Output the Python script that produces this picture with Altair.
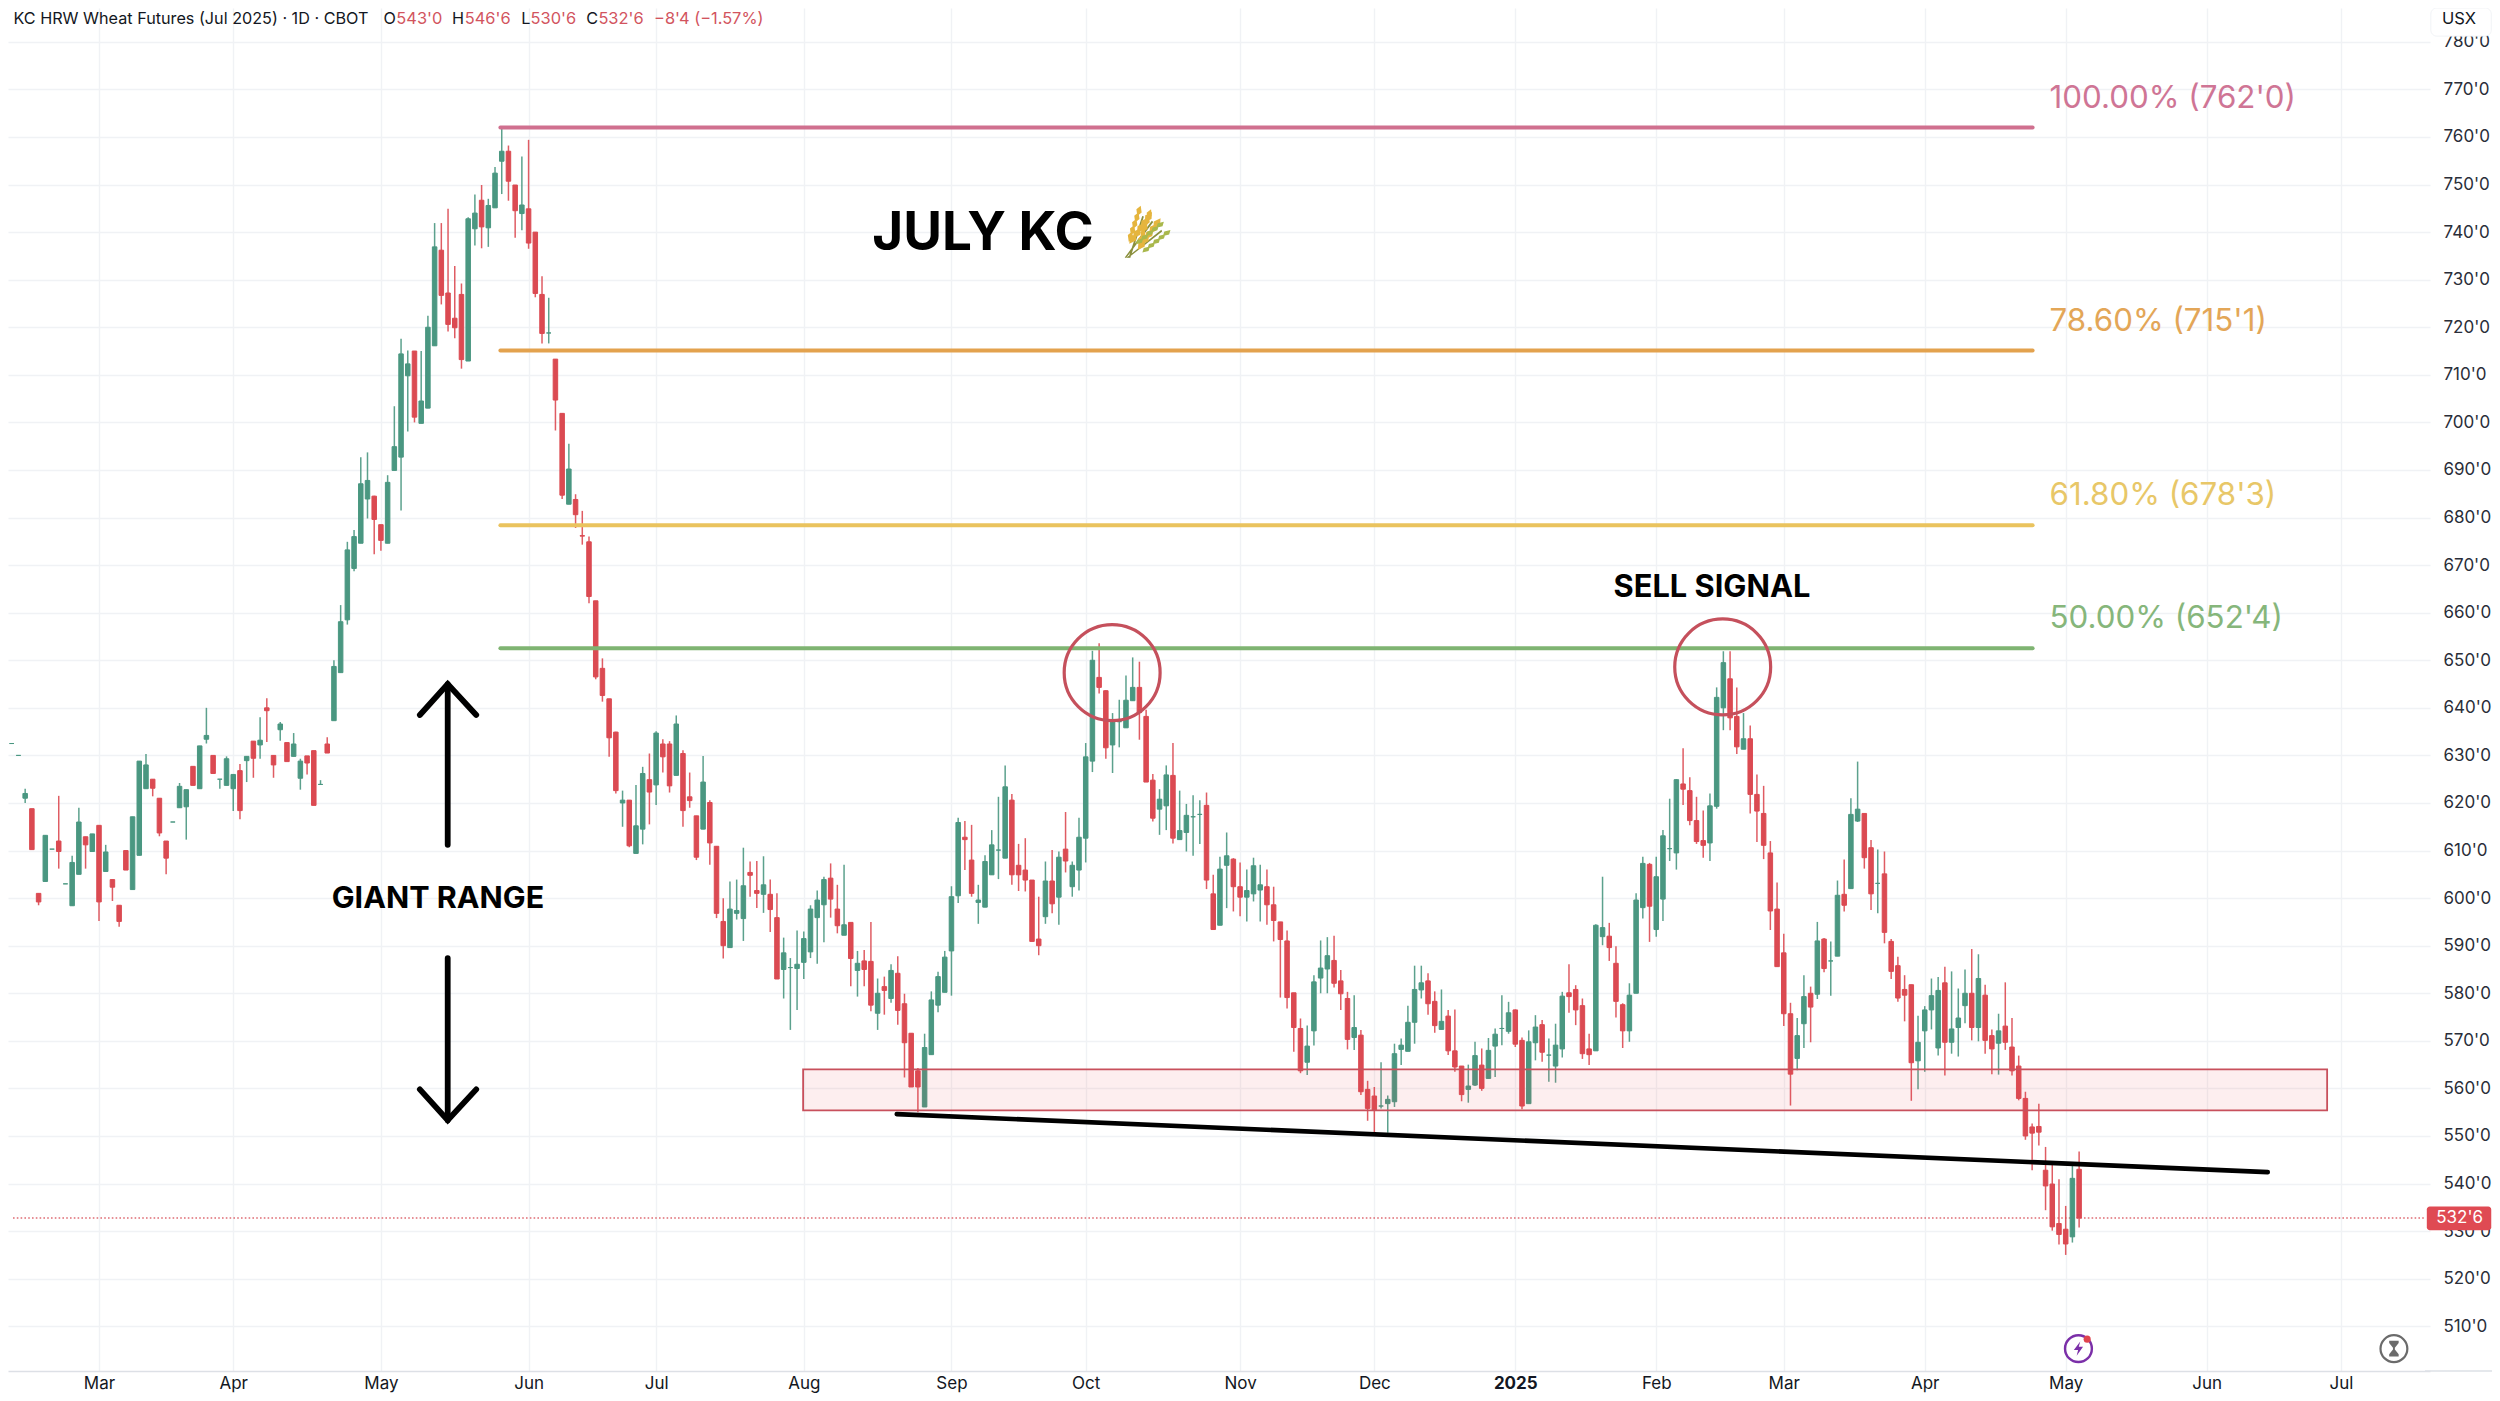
import altair as alt
import pandas as pd

# ---- daily candles (prices in cents, 1/8 rounded to tenths) ----
opens = [
632.5,632.5,630,621,618.8,601,603.5,610.3,612,603,
598.4,605,612.9,609.8,615.3,605.6,603.9,598.5,610,601.8,
609,623,625,621,612,616,619,619.2,627.7,623,
633.4,630,625,623.7,623,626.8,628.9,633,632.2,640,
630,635.4,632.7,629.8,625.2,629.9,631,623.9,632.4,637.3,
647.4,658.5,669.3,674.6,683.9,684.5,678.5,674.6,689.9,692.7,
709.8,715,699.8,703,716.1,736.2,727.2,721.9,726.9,712.9,
740.7,746.7,740.9,745.1,754.9,757,749.9,743.9,744.9,740,
726.9,718.8,713.3,701.9,682.8,683.8,676.2,674.9,662.5,648.3,
641.9,634.9,620,620.6,609.4,614.5,624.9,623.8,632.4,632.4,
625.8,630.4,621.3,617.3,614.5,620.1,610.9,595.1,589.6,596.8,
595.7,605.4,601.6,600.8,600.8,595.9,585,585.4,585.2,586.5,
588.7,595.9,598.6,604.2,597.7,592.2,594.9,584.8,586.8,586.7,
575.8,581.4,578.9,584.2,577.8,571.6,563.7,556.1,567.1,577.5,
580.2,588.9,600.5,612.8,608,599.1,598.1,604.9,610.1,608.4,
620.6,606.9,605.9,603.8,591.4,596.1,603.6,600.2,610.3,602.4,
605.9,612.6,628.8,646.4,643.6,632.2,637.1,635.8,641.5,644.3,
638.2,624.8,618.7,619.4,625.8,612.3,613.8,617.1,617.6,619.5,
600.9,594.3,606.9,608.2,602.4,600.2,600.9,601.7,602.4,598.6,
595,591,580.1,572.6,565.5,572.1,583.2,585.1,586.9,582.6,
578.9,570.7,571.2,559.8,558.4,556.3,556.8,557.2,568.2,567.8,
573.9,580.7,582.6,578.3,572.4,575.2,567.9,564.7,559.8,560.7,
564.9,562.1,568.9,572.6,572,576.5,570.1,556.8,569.6,573.4,
567,564.7,568.3,580.1,580.8,577.4,568.3,567.9,591.9,592,
586.3,577.6,572.1,580,598,607.1,593.4,599.8,610.4,609.5,
624,622.6,616.3,612.1,611.6,619.3,640,646.1,638.2,631.3,
633.5,621.8,617.8,609.5,597.7,588.5,575.7,566.3,573.6,580,
579.8,591.4,586.8,587.8,600.8,602,616.2,617.8,610.6,603.1,
605.1,590.9,585.8,580.8,581.8,565.8,572.1,576.5,568.5,582.2,
569.7,572.8,577.4,580,572.8,579.6,571.1,569.5,573.1,568.7,
564.7,557.9,551.9,552,542.8,539.9,531.6,530.4,528.8,543]

highs = [
632.5,632.5,630,623,618.8,601,613.2,610.3,621.5,603,
608.9,619,612.9,613.5,615.3,611.2,603.9,598.5,610,617.1,
628.8,630.3,625,621,612,616,624.2,622.8,627.7,632,
640,630,625,629.8,626,628.2,629.8,633,638,642,
630,637,632.7,634.7,629.3,629.9,631,624.8,633.8,650,
661.6,674.9,677.4,692.7,693.7,684.6,678.5,688.9,703.4,717.6,
715.1,715,715,722.4,741.9,741.9,744.9,732.9,729.2,743.1,
747.9,749.9,747,753.7,762,758.2,749.9,755.9,759.4,740,
730.7,726.2,713.3,701.9,695.5,684.9,681.4,676,662.5,650.4,
641.9,635,622.6,620.6,623.8,627.6,630.4,635.1,633.4,633,
638.4,631.1,626.4,617.3,629.9,620.6,610.9,600,603.5,603.9,
610.6,607.7,607.8,608.8,603.9,601,591.7,587.4,593.2,593,
598.5,601.6,604.5,607.3,602.8,607,594.9,588.9,589.1,595,
583.1,583.5,586.1,587.8,579.9,571.6,564.3,571.5,580.4,584.5,
588.9,602.5,616.9,616.2,615.4,602.8,609,614.3,621.3,627.9,
621.9,611.4,612.6,603.8,600.3,607.7,610.1,609.8,618.1,607.7,
616.9,632.6,652,653.6,643.7,638.9,641.7,646.8,650.6,649.7,
639.6,626.1,622.9,627.9,632.6,622.6,619.8,621.6,620.6,622.2,
604.9,608.7,613.8,608.4,607.5,606,608.5,607,606,602.4,
595,593.2,580.1,574.7,573.2,583.8,591.1,591.8,592.1,584.9,
580.3,579.6,572.3,561.6,560.3,565.5,558.5,569.4,570.5,577.4,
585.8,585.8,584.2,580.4,580.8,576.5,576.6,564.7,565,569.8,
568.4,570.6,572.6,579.6,578.2,576.6,570.7,572.2,575.4,574.4,
570.5,573.6,580.3,586.1,581.7,578.9,571.5,594.5,604.5,594.8,
589.9,577.9,582.1,601,608.7,607.4,608.7,614.3,620.9,625,
631.5,625.4,621.3,618.4,622,644.3,651.9,651.9,644.3,638.9,
636.3,626,623.6,612,603.3,592.5,578,574.8,583.8,581.4,
595,591.6,590.9,603.7,608.1,621,628.7,617.8,612.2,610.2,
609.8,591.4,587.7,583.8,581.8,575.3,577.3,583.1,583.4,585.6,
584.6,581,585,589.3,588.2,581.8,572.4,575.7,582.3,574.8,
566.9,559.3,552.6,556.8,547.7,544.2,540.9,535.3,544.2,546.75]

lows = [
632.5,632.5,630,620,610.2,598.5,603.5,610.3,606.2,603,
598.4,605,606.2,609.8,595.2,605.6,599.4,594,605.9,601.8,
609,623,621.4,613,605,616,619,612.3,623.7,623,
632.5,626.2,623,623.7,618.3,616.6,624.4,625.3,629.3,632.8,
625.3,633.1,628.7,629.8,622.8,626,619.5,623.9,630.5,637.3,
647.4,657.5,668.7,674.6,679.8,672.3,673,674.6,689.9,681.5,
698.1,700,699.8,703,716.1,724.8,719.1,717.7,711.3,712.9,
737.2,736.6,736.9,745.1,748,746.6,738.8,740.4,736.5,726.3,
716.6,716.6,698.3,683.9,682.8,677.8,674.3,662,646,641.3,
629.7,622,615,610.7,609.4,611.3,615.5,619.6,626.4,622.2,
625.8,615,619,608,614.5,607,595.8,587.3,589.6,595.5,
591,600.3,597.9,596.9,592.9,583,578.9,572.3,576.5,583,
587.4,586.2,590.7,595.9,592.6,592.2,581.5,579.3,581.5,576.2,
572.3,575.5,578,573.4,562.3,560.3,555,556.1,567.1,576,
580.2,579.5,599,605.9,600.3,594.6,598.1,604.9,604,608.4,
602.8,601.5,601.4,590.9,588,594.6,596.8,594.4,605.4,600.3,
601.6,607.5,626.5,643,629.3,626.3,631.7,635.8,641.5,633.3,
624.4,616.1,613.3,614.3,611.5,612.3,609.8,608.9,611.4,601.9,
593.4,594.3,597.9,597.2,596.2,595.1,599.3,595.1,594.4,590.9,
579.1,576.8,567.7,563.2,562.8,569,580,580,581.2,576.5,
568.2,568.1,558.6,553.2,550.7,555.8,550.7,556.1,564.9,567.8,
569.4,578.9,575.5,571.7,572.4,567,563.5,557.3,557,560.5,
559.5,562.1,562.4,569.1,571.5,568.7,555.6,556.8,565.9,565.6,
561.4,561.2,566.5,575.9,573.3,566.2,564.9,567.9,590.1,586.8,
574.9,568.5,569.8,580,595.7,590.8,591.9,595.2,607.8,606,
619.6,615.3,611.4,608.5,607.8,618.8,635.3,635.3,630.3,631.3,
617.8,611.8,608.2,593.3,585.6,573.1,556.4,563.8,568.5,569.7,
578.8,584.4,579.5,587.8,597.2,602,616,606.2,597.5,596.8,
590.5,583,578.2,574.1,557.4,559.8,563.5,572.4,566.9,562.7,
567.3,566.7,573.7,570.1,569.9,567.3,563,562.9,568.1,562.7,
557.5,549.2,542.8,548,534.4,530.1,527.2,525,527.6,530.75]

closes = [
632.5,632.5,630,622,610.2,599.2,613.2,610.3,609.8,603,
607.5,616,611.2,613.5,599.2,609.7,602.3,595.1,605.9,617.1,
628.8,628,623.1,613.7,608.4,616,623.5,622.8,623.7,632,
634.2,626.2,625,629.3,626,618.4,629.8,629.4,633.2,639.4,
628,636.6,628.7,632.4,628.8,628.4,619.5,623.9,630.5,648.7,
658.1,673.2,676,687.1,687.8,679.6,675.2,687.4,694.9,714.4,
712.3,701.1,704.5,720,736.9,726.7,720.6,719.9,713.2,742.8,
744,741.1,745.6,752.4,757,750.7,744.5,745.7,737.7,727.1,
718.7,718.8,704.7,684.7,690.2,680.6,676.1,663.4,646.5,642.6,
633.7,622.6,620.6,611,615.2,626.2,622.3,634.7,629.7,623.6,
636.6,618.4,620.5,608.6,624.4,611.6,596.8,590,597.7,597.4,
602.6,604.8,601,602.8,597.6,583,588.5,585.4,586.1,591.5,
597.7,599.6,603.9,599.8,594.2,594.4,587.3,586.3,585,577.5,
580,580.6,584.8,576.4,569.6,560.3,560.3,568.6,578.6,583.5,
587.6,600.3,615.9,612.3,601,599.6,607.7,611.2,610.1,623.4,
604.9,604.9,603.8,590.9,590,603.6,598.8,608.6,607.8,606.9,
612.8,629.7,650,644.3,631.6,637,637.1,641.6,644.3,639,
624.4,616.8,620.8,625.9,612.6,614.2,617.4,617.1,617.6,603.8,
593.4,606.1,608.9,602.4,600.2,601.6,606.8,602.8,598.6,595.3,
591.3,579.1,572.8,563.7,568.9,582.4,585.3,587.9,582.1,579.9,
570.3,572.8,559.3,555.8,555.5,556.3,557.7,567.3,569.1,573.9,
580.8,582.2,577.8,573.2,574.1,567.9,564.5,558.7,560.5,566.9,
560,568,571.4,572.6,575.9,569.3,556.3,569.8,572.9,567.6,
567,569.1,579.4,579.3,576.5,567.3,567.1,594.3,593.8,589.6,
578.3,572.1,579.6,599.6,607.3,598.3,604.5,613.1,610.4,624.9,
622.9,616.3,611.9,611.1,619.4,642.2,649.5,637.9,631.8,633.5,
621.8,618.3,611.1,597.3,585.6,575.7,563,571.1,579.3,577.1,
591,585.2,586.8,600.6,598.5,617.6,618.7,608.5,600.9,603.1,
592.8,584.6,579,579.6,565.4,569.7,576.5,579.5,580.6,569.7,
572.5,574.8,580,572.8,583.1,570.1,568.3,572.1,569.7,563.7,
557.9,550,550.6,550.8,539.5,530.9,529.3,527.3,541.1,532.75]

assert len(opens) == len(highs) == len(lows) == len(closes) == 310

# ---- axes ----
price_ticks = list(range(510, 790, 10))
month_pos = [14, 34, 56, 78, 97, 119, 141, 161, 184, 204, 225, 246, 265, 286, 307, 328, 348]
month_lab = ["Mar", "Apr", "May", "Jun", "Jul", "Aug", "Sep", "Oct", "Nov", "Dec", "2025",
             "Feb", "Mar", "Apr", "May", "Jun", "Jul"]

# ---- drawn levels ----
fib_levels = [762.0, 715.125, 678.375, 652.5]
fib_colors = ["#D0708F", "#E3A24E", "#EAC35E", "#7FB472"]
fib_text_colors = ["#CF7595", "#E3A657", "#E8C768", "#86B67B"]
fib_labels = ["100.00% (762'0)", "78.60% (715'1)", "61.80% (678'3)", "50.00% (652'4)"]
fib_label_price = [768.0, 721.1, 684.6, 658.7]

GREEN, RED = "#4A9781", "#DB4A52"
FONT = "Inter"
W, H = 2422, 1363
I_MIN, I_MAX = 1.187, 360.53
xs = alt.Scale(domain=[I_MIN, I_MAX], nice=False, zero=False)
ys = alt.Scale(domain=[500.6, 787.11], nice=False, zero=False)

x_axis = alt.Axis(
    values=month_pos, grid=True, gridColor="#F0F2F5", gridWidth=1.4, ticks=False,
    domain=True, domainColor="#DDE0E6", domainWidth=1.4, labelFont=FONT, labelFontSize=17,
    labelColor="#131722", labelPadding=4, labelOverlap=False, labelFlush=False, labelBound=False,
    labelExpr="%s[indexof(%s, datum.value)]" % (month_lab, month_pos),
    labelFontWeight=alt.expr("datum.value == 225 ? 700 : 400"))
y_axis = alt.Axis(
    orient="right", values=price_ticks, grid=True, gridColor="#F0F2F5", gridWidth=1.4,
    ticks=False, domain=False, labelFont=FONT, labelFontSize=17, labelColor="#2A2E39",
    labelPadding=13, labelOverlap=False, labelFlush=False, labelBound=False,
    labelExpr="datum.value + \"'0\"")

X = alt.X("i:Q", scale=xs, title=None, axis=x_axis)
Y = alt.Y("p:Q", scale=ys, title=None, axis=y_axis)

df = pd.DataFrame({"i": range(310), "o": opens, "h": highs, "l": lows, "c": closes})
df["col"] = [GREEN if c >= o else RED for o, c in zip(opens, closes)]

# last price dotted line
last_line = alt.Chart(pd.DataFrame({"i": [I_MIN], "i2": [I_MAX], "p": [532.75]})).mark_rule(
    color="#D9525C", strokeWidth=1.4, strokeDash=[1.6, 2.2], opacity=0.85).encode(x=X, x2="i2:Q", y=Y)

# wicks and bodies
wick = alt.Chart(df).mark_rule(strokeWidth=1.5, opacity=0.9).encode(
    x=X, y=alt.Y("l:Q", scale=ys, title=None, axis=y_axis), y2="h:Q", color=alt.Color("col:N", scale=None))
body = alt.Chart(df).mark_bar(size=4.5, strokeWidth=1).encode(
    x=X, y=alt.Y("o:Q", scale=ys, title=None, axis=y_axis), y2="c:Q",
    color=alt.Color("col:N", scale=None), stroke=alt.Stroke("col:N", scale=None))

# support band
band = alt.Chart(pd.DataFrame({"i": [118.9], "i2": [345.95], "p": [564.0], "p2": [555.4]})).mark_rect(
    fill="#E8404D", fillOpacity=0.09, stroke="#C8505C", strokeWidth=1.8).encode(x=X, x2="i2:Q", y=Y, y2="p2:Q")

# fib lines
fib_df = pd.DataFrame({"i": [73.8] * 4, "i2": [302.07] * 4, "p": fib_levels, "col": fib_colors})
fib = alt.Chart(fib_df).mark_rule(strokeWidth=4, strokeCap="round").encode(
    x=X, x2="i2:Q", y=Y, color=alt.Color("col:N", scale=None))
fib_txt = alt.Chart(pd.DataFrame({"i": [304.6] * 4, "p": fib_label_price, "t": fib_labels, "col": fib_text_colors})
    ).mark_text(font=FONT, fontSize=31.3, align="left", baseline="middle").encode(
    x=X, y=Y, text="t:N", color=alt.Color("col:N", scale=None))

# trend line
trend = alt.Chart(pd.DataFrame({"i": [132.85, 337.1], "p": [554.6, 542.4]})).mark_line(
    color="#000000", strokeWidth=4.6, strokeCap="round").encode(x=X, y=Y)

# circles
circ = alt.Chart(pd.DataFrame({"i": [164.94, 255.9], "p": [647.4, 648.6]})).mark_point(
    shape="circle", size=9200, filled=False, color="#C5505C", strokeWidth=3.2, opacity=1).encode(x=X, y=Y)

# arrows
arrow_df = pd.DataFrame({
    "g": ["a"] * 2 + ["b"] * 3 + ["c"] * 2 + ["d"] * 3,
    "o": list(range(10)),
    "i": [65.95, 65.95, 61.8, 65.95, 70.2, 65.95, 65.95, 61.8, 65.95, 70.2],
    "p": [611.2, 645.0, 638.5, 645.0, 638.5, 587.4, 553.3, 559.8, 553.3, 559.8]})
arrows = alt.Chart(arrow_df).mark_line(color="#000000", strokeWidth=5.8, strokeCap="round", strokeJoin="miter").encode(
    x=X, y=Y, detail="g:N", order="o:Q")

def text_layer(rows, size, weight=400, color="#000000", align="left", font=FONT):
    d = pd.DataFrame(rows, columns=["i", "p", "t"])
    return alt.Chart(d).mark_text(font=font, fontSize=size, fontWeight=weight, color=color,
                                  align=align, baseline="middle").encode(x=X, y=Y, text="t:N")

notes = [
    text_layer([(145.7, 739.6, "JULY KC")], 53, 700, align="center"),
    text_layer([(64.5, 599.8, "GIANT RANGE")], 30.5, 700, align="center"),
    text_layer([(254.3, 665.1, "SELL SIGNAL")], 30.8, 700, align="center"),
]

# header: starts at the left edge of the drawing area
HEAD_P = 784.7
header = [
    text_layer([(1.25, HEAD_P, "KC HRW Wheat Futures (Jul 2025) · 1D · CBOT"),
                (56.4, HEAD_P, "O"), (66.6, HEAD_P, "H"), (76.9, HEAD_P, "L"), (86.6, HEAD_P, "C")],
               16.2, 400, "#131722"),
    text_layer([(58.3, HEAD_P, "543'0"), (68.5, HEAD_P, "546'6"), (78.3, HEAD_P, "530'6"),
                (88.4, HEAD_P, "532'6"), (96.7, HEAD_P, "−8'4 (−1.57%)")],
               16.4, 400, "#D2545E"),
]

# price tag and unit box (over the axis labels)
tag = alt.Chart(pd.DataFrame({"i": [360.8], "i2": [370.4], "p": [535.2], "p2": [530.2]})).mark_rect(
    color="#DF4A53", cornerRadius=3).encode(x=X, x2="i2:Q", y=Y, y2="p2:Q")
tag_t = text_layer([(365.7, 532.75, "532'6")], 17, 400, "#FFFFFF", "center")
usx = alt.Chart(pd.DataFrame({"i": [361.4], "i2": [370.4], "p": [787.11], "p2": [781.2]})).mark_rect(
    fill="#FFFFFF", stroke="#F1F3F6", strokeWidth=1, cornerRadius=6).encode(x=X, x2="i2:Q", y=Y, y2="p2:Q")
usx_t = text_layer([(365.6, HEAD_P, "USX")], 16.5, 400, "#131722", "center")
tail = alt.Chart(pd.DataFrame({"i": [I_MAX], "i2": [372.0], "p": [500.6]})).mark_rule(
    color="#DDE0E6", strokeWidth=1.4).encode(x=X, x2="i2:Q", y=Y)

# wheat emoji, lightning and hourglass icons as vector symbols
def grains(bx, by, tx, ty, n=5, w=0.13):
    out = []
    for k in range(n):
        t = 0.42 + 0.55 * k / (n - 1)
        cx, cy = bx + (tx - bx) * t, by + (ty - by) * t
        dx, dy = (tx - bx), (ty - by)
        nx, ny = -dy, dx
        for sgn in (-1, 1):
            gx, gy = cx + sgn * nx * 0.11, cy + sgn * ny * 0.11
            out.append("M%.3f,%.3fL%.3f,%.3fL%.3f,%.3fL%.3f,%.3fZ" % (
                gx + dx * w, gy + dy * w, gx + w, gy + w * 0.6, gx - dx * w, gy - dy * w, gx - w, gy - w * 0.6))
    return "".join(out)

stem = ("M-0.78,0.98L0.35,-0.55L0.41,-0.5L-0.72,1Z"
        "M-0.62,0.98L-0.05,-0.75L0.02,-0.73L-0.55,1Z"
        "M-0.7,0.98L0.75,-0.18L0.78,-0.11L-0.64,1Z")
wheat_gold = grains(-0.75, 1, 0.42, -0.62) + grains(-0.6, 1, 0.05, -0.95, 5, 0.11)
wheat_green = grains(-0.68, 1, 0.88, -0.25, 5, 0.1)
wheat_pt = {"i": [169.6], "p": [739.6]}
wheat = [
    alt.Chart(pd.DataFrame(wheat_pt)).mark_point(shape=stem, size=2300, filled=True, color="#8A8F3C", opacity=1, strokeWidth=0).encode(x=X, y=Y),
    alt.Chart(pd.DataFrame(wheat_pt)).mark_point(shape=wheat_gold, size=2300, filled=True, color="#E5B53E", opacity=1, strokeWidth=0).encode(x=X, y=Y),
    alt.Chart(pd.DataFrame(wheat_pt)).mark_point(shape=wheat_green, size=2300, filled=True, color="#A9B84C", opacity=1, strokeWidth=0).encode(x=X, y=Y),
]

icon_y = 505.3
bolt = "M0.25,-1L-0.65,0.2L-0.05,0.2L-0.25,1L0.65,-0.25L0.05,-0.25Z"
glass = ("M-0.6,-1L0.6,-1L0.6,-0.72L0.12,-0.1L0.12,0.1L0.6,0.72L0.6,1L-0.6,1L-0.6,0.72L-0.12,0.1L-0.12,-0.1L-0.6,-0.72Z")
icons = [
    alt.Chart(pd.DataFrame({"i": [308.9], "p": [icon_y]})).mark_point(shape="circle", size=720, filled=False, color="#7B2FA8", strokeWidth=2.4, opacity=1).encode(x=X, y=Y),
    alt.Chart(pd.DataFrame({"i": [308.9], "p": [icon_y]})).mark_point(shape=bolt, size=200, filled=True, color="#7B2FA8", opacity=1, strokeWidth=0).encode(x=X, y=Y),
    alt.Chart(pd.DataFrame({"i": [310.2], "p": [507.3]})).mark_point(shape="circle", size=50, filled=True, color="#E0444E", opacity=1).encode(x=X, y=Y),
    alt.Chart(pd.DataFrame({"i": [355.9], "p": [icon_y]})).mark_point(shape="circle", size=720, filled=False, color="#6B6B6B", strokeWidth=2.2, opacity=1).encode(x=X, y=Y),
    alt.Chart(pd.DataFrame({"i": [355.9], "p": [icon_y]})).mark_point(shape=glass, size=250, filled=True, color="#6B6B6B", opacity=1, strokeWidth=0).encode(x=X, y=Y),
]

chart = alt.layer(
    last_line, wick, body, band, fib, fib_txt, trend, circ, arrows,
    *notes, *wheat, *header, usx, usx_t, tag, tag_t, tail, *icons
).properties(
    width=W, height=H,
    autosize=alt.AutoSizeParams(type="none"),
    padding={"left": 0, "top": 0, "right": 62, "bottom": 22},
    background="#FFFFFF",
).configure_view(stroke=None)

chart.save("out.html", embed_options={"renderer": "svg", "actions": False})
